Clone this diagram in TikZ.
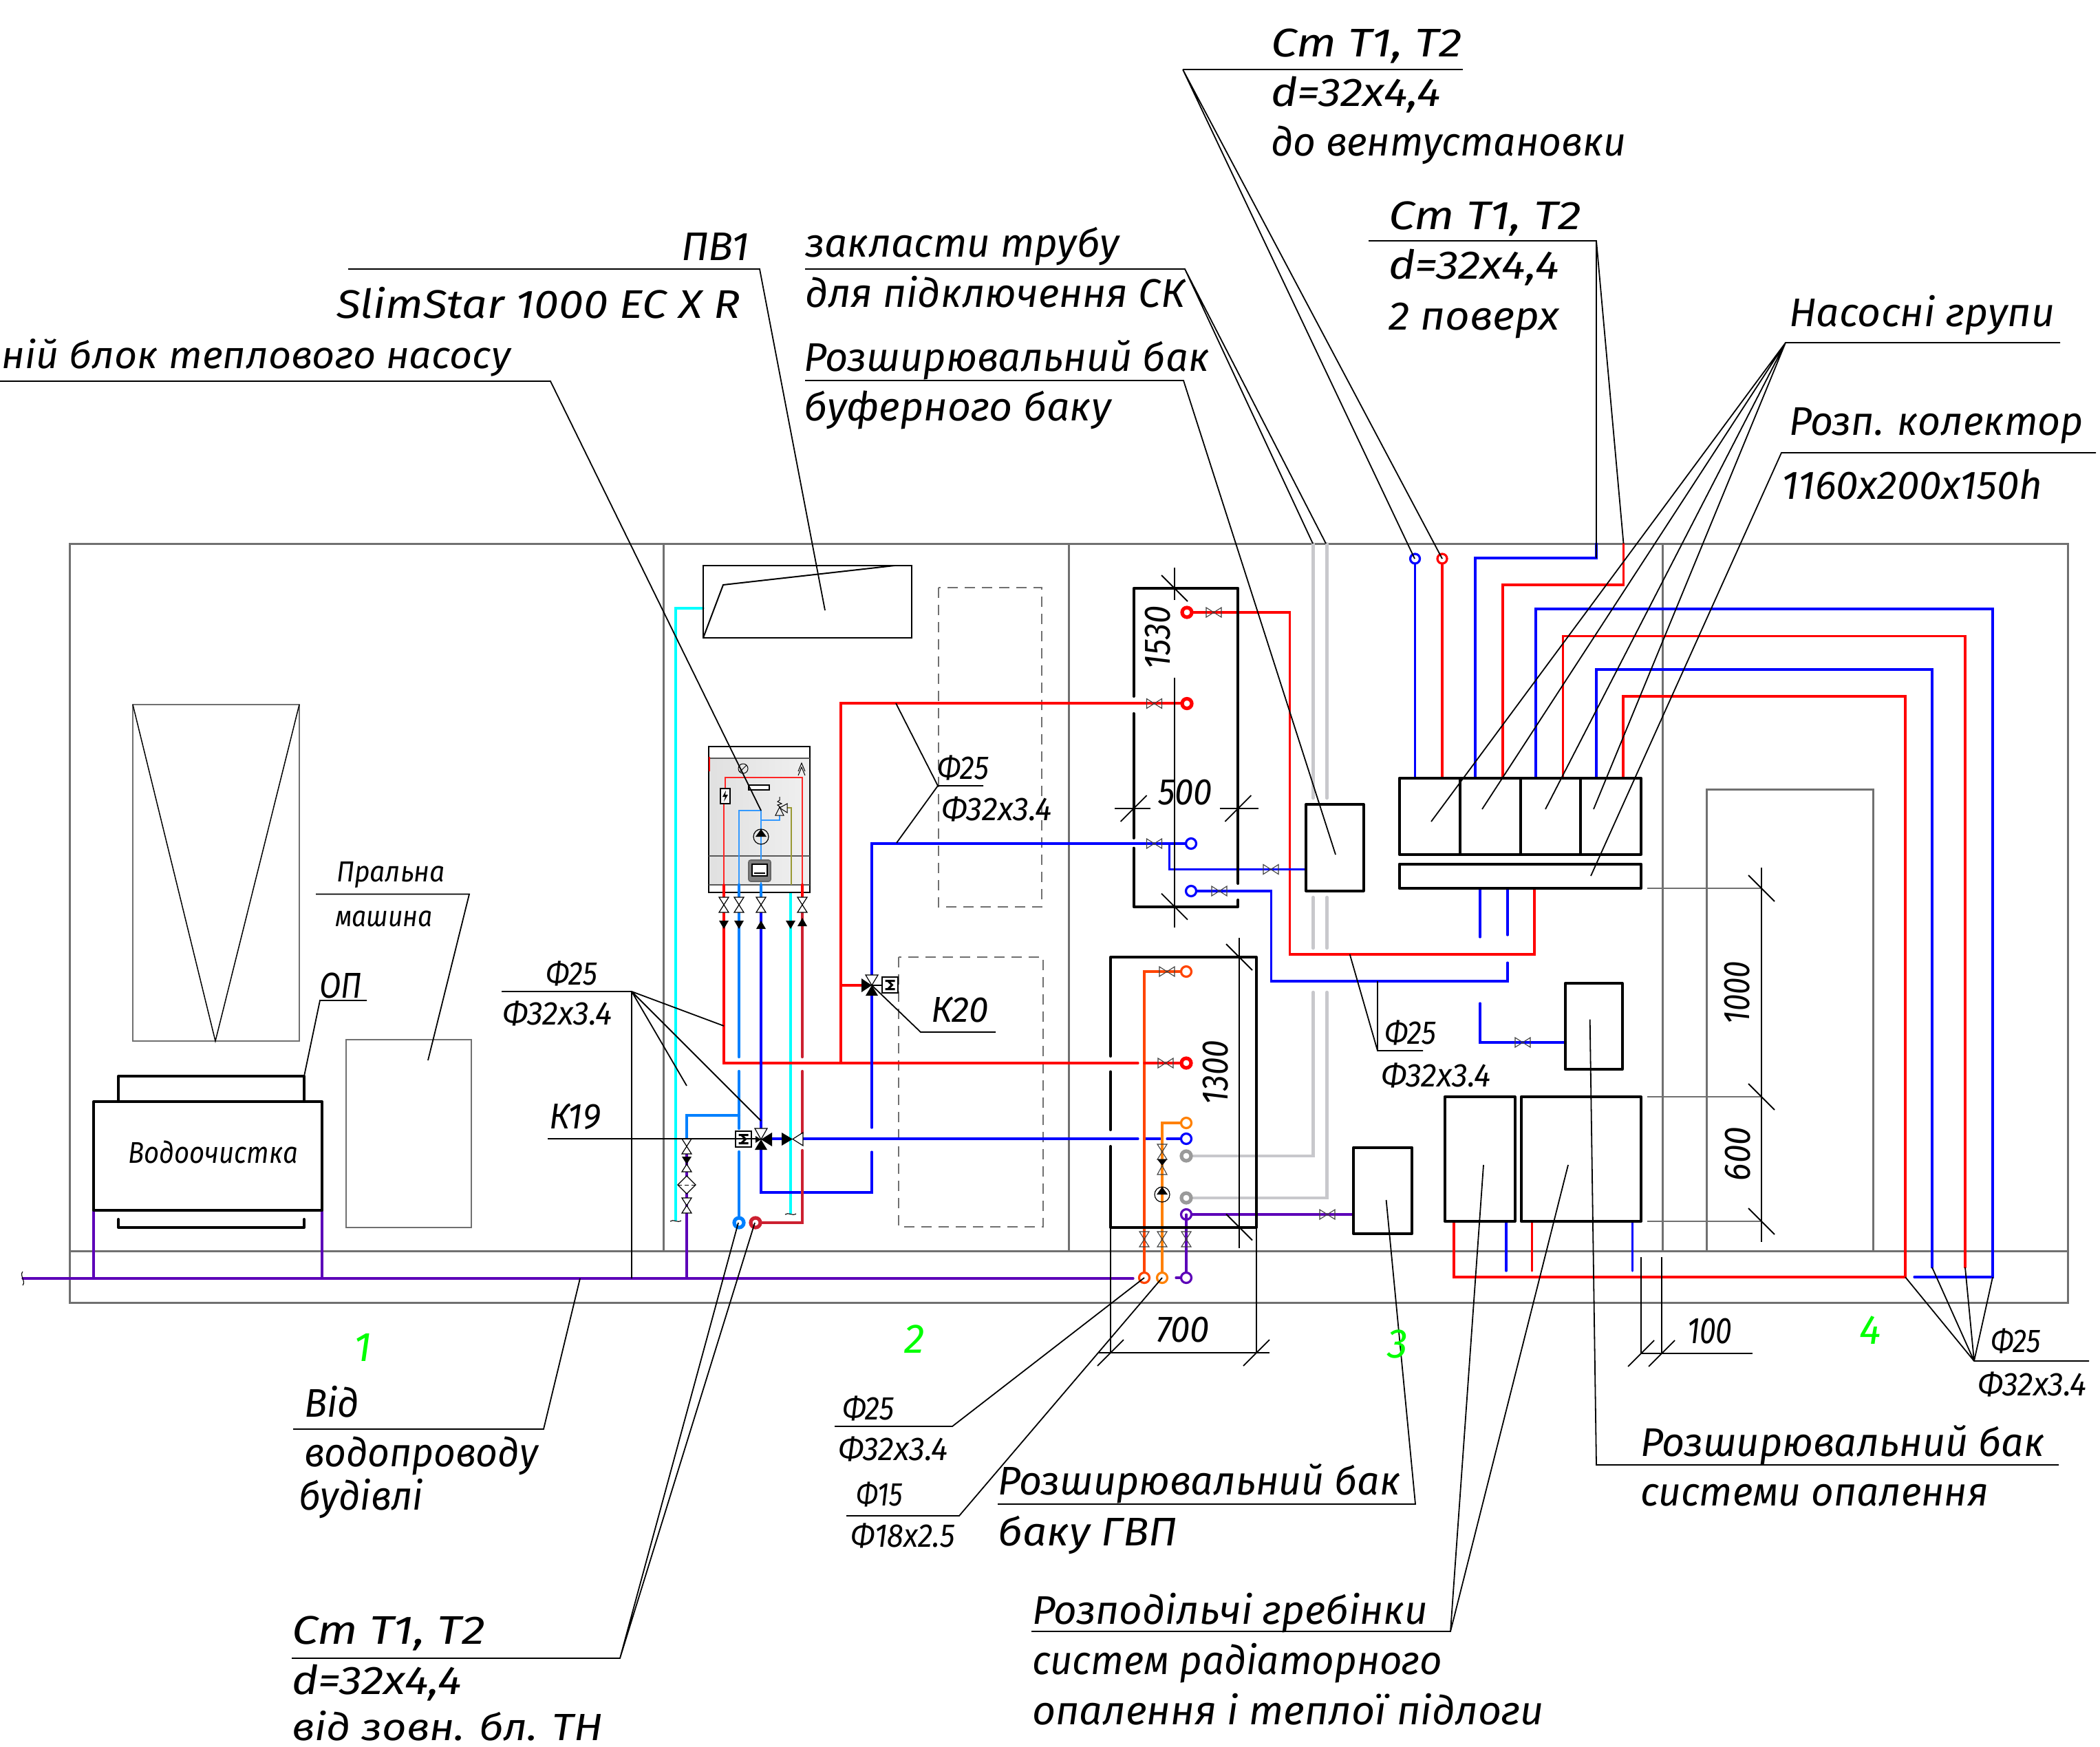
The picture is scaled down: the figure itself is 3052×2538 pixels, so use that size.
\documentclass[tikz,border=0pt]{standalone}
\usepackage{graphicx}
\usepackage{fontspec}
\newfontfamily\fnt{Fira Sans}
\definecolor{pblue}{HTML}{0000FF}
\definecolor{pred}{HTML}{FF0000}
\definecolor{pazure}{HTML}{0080FF}
\definecolor{plight}{HTML}{3399FF}
\definecolor{pdred}{HTML}{CC2030}
\definecolor{pcyan}{HTML}{00FFFF}
\definecolor{ppurple}{HTML}{5C00B8}
\definecolor{porange}{HTML}{FF8000}
\definecolor{porred}{HTML}{FF4400}
\definecolor{pgrey}{HTML}{C8C8CC}
\definecolor{cgrey}{HTML}{9A9A9A}
\definecolor{wallc}{HTML}{707070}
\definecolor{pgreen}{HTML}{00FF00}
\definecolor{polive}{HTML}{999933}
\tikzset{
  wall/.style={draw=wallc,line width=1.5pt,line join=miter},
  thinwall/.style={draw=wallc,line width=1pt},
  dashbox/.style={draw=wallc,line width=1pt,dash pattern=on 7.5pt off 5pt},
  hv/.style={draw=black,line width=2pt,line join=round,line cap=round},
  pipe/.style={line width=1.6pt,line join=miter,line cap=round},
  thickpipe/.style={line width=2.2pt,line join=miter,line cap=round},
  leader/.style={draw=black,line width=0.9pt},
  hair/.style={draw=black,line width=0.55pt},
  valve/.style={draw=black!75,line width=0.55pt,line join=miter},
  valvew/.style={draw=black,line width=0.6pt,fill=white,line join=miter},
  endc/.style={line width=1.6pt,fill=white},
  endt/.style={line width=2.6pt,fill=white},
}
\newlength\tlen
\newcommand\T[7][0]{%
  \node[anchor=base west,inner sep=0pt,outer sep=0pt,rotate=#1] (#2) at (#3,#4) {%
    \settowidth\tlen{\fontsize{20}{20}\fnt\itshape #7}%
    \pgfmathsetmacro\xs{#5*0.5/\tlen}%
    \pgfmathsetmacro\ys{#6*0.5/13.78}%
    \scalebox{\xs}[\ys]{\fontsize{20}{20}\fnt\itshape #7}};%
}
\newcommand\vh[2]{\draw[valve] (#1-11,#2-7)--(#1+11,#2+7)--(#1+11,#2-7)--(#1-11,#2+7)--cycle;}
\newcommand\vv[2]{\draw[valve] (#1-7,#2-11)--(#1+7,#2+11)--(#1-7,#2+11)--(#1+7,#2-11)--cycle;}
\newcommand\vvw[2]{\draw[valvew] (#1-7,#2-11)--(#1+7,#2+11)--(#1-7,#2+11)--(#1+7,#2-11)--cycle;}
\newcommand\tb[2]{\draw[hair,line width=0.9pt] (#1-19,#2-19)--(#1+19,#2+19);}
\newcommand\tf[2]{\draw[hair,line width=0.9pt] (#1-19,#2+19)--(#1+19,#2-19);}
\newcommand\act[2]{\draw[black,fill=white,line width=0.6pt] (#1-11.5,#2-11.5) rectangle (#1+11.5,#2+11.5);
  \draw[black,line width=1.5pt] (#1-7,#2-6)--(#1+7,#2-6) (#1-3,#2-6)--(#1+3,#2)--(#1-3,#2+6) (#1-7,#2+6)--(#1+7,#2+6);}
\newcommand\pump[2]{\draw[black,line width=0.6pt] (#1,#2) circle[radius=11];
  \fill[black] (#1,#2-11)--(#1+8,#2)--(#1-8,#2)--cycle;}
\newcommand\til[2]{\draw[black,line width=0.55pt] (#1-8,#2+1) .. controls (#1-3,#2-3) and (#1+2,#2+4) .. (#1+8,#2);}
\begin{document}
\begin{tikzpicture}[x=0.5pt,y=-0.5pt]
\useasboundingbox (0,0) rectangle (3052,2538);
\fill[white] (0,0) rectangle (3052,2538);

% rooms
\draw[wall] (101,790) rectangle (3005,1893);
\draw[wall] (101,1818)--(3005,1818);
\draw[wall] (964,790)--(964,1818);
\draw[wall] (1553,790)--(1553,1818);
\draw[wall] (2416,790)--(2416,1818);
\draw[wall] (2480,1818)--(2480,1147)--(2722,1147)--(2722,1818);
\draw[dashbox] (1364,854) rectangle (1514,1318);
\draw[dashbox] (1306,1391) rectangle (1516,1783);

% room 1
\draw[thinwall] (193,1024) rectangle (435,1513);
\draw[black,line width=0.75pt] (193,1024)--(313,1513)--(435,1024);
\draw[thinwall] (503,1511) rectangle (685,1784);

% purple mains
\draw[ppurple,pipe] (33,1858)--(1647,1858);
\draw[ppurple,pipe] (136,1759)--(136,1858);
\draw[ppurple,pipe] (468,1759)--(468,1858);
\draw[ppurple,pipe] (998,1677)--(998,1858);
\draw[ppurple,pipe] (1709,1857)--(1724,1857);
\draw[ppurple,pipe] (1724,1857)--(1724,1765)--(1967,1765);
\draw[black,line width=0.55pt] (33,1848) .. controls (28,1854) and (38,1862) .. (33,1868);

% cyan
\draw[pcyan,pipe] (1022,884)--(982,884)--(982,1773);
\draw[pcyan,pipe] (1149,1286)--(1149,1763);
\til{982}{1774}
\til{1149}{1764}

% gray pipes
\draw[pgrey,thickpipe] (1908.5,790)--(1908.5,1160);
\draw[pgrey,thickpipe] (1928.5,790)--(1928.5,1160);
\draw[pgrey,thickpipe] (1908.5,1304)--(1908.5,1378);
\draw[pgrey,thickpipe] (1928.5,1304)--(1928.5,1378);
\draw[pgrey,thickpipe] (1908.5,1442)--(1908.5,1680)--(1724,1680);
\draw[pgrey,thickpipe] (1928.5,1442)--(1928.5,1741)--(1724,1741);

% heat pump unit
\draw[black,line width=1pt,fill=white] (1030,1085) rectangle (1177,1297);
\shade[left color=black!12,right color=black!6] (1031,1102) rectangle (1176,1286);
\draw[black!65,line width=1pt] (1030,1102)--(1177,1102) (1030,1244)--(1177,1244) (1030,1286)--(1177,1286);
\draw[pred,line width=0.8pt] (1031,1100)--(1031,1121);
\draw[black,line width=0.5pt] (1080,1117) circle[radius=7];
\draw[black,line width=0.5pt] (1075,1122)--(1085,1112);
\draw[black,line width=0.5pt] (1160,1121)--(1165,1109)--(1170,1121) (1160,1127)--(1165,1115)--(1170,1127);
\draw[black,line width=0.8pt,fill=white] (1088,1141) rectangle (1118,1148);
\draw[pred!85,line width=0.7pt] (1052,1286)--(1052,1168) (1054,1146)--(1054,1130)--(1166,1130)--(1166,1286);
\draw[plight,line width=0.8pt] (1074,1286)--(1074,1178)--(1106,1178)--(1106,1286);
\draw[plight,line width=0.8pt] (1106,1192)--(1133,1192)--(1133,1185);
\draw[polive,line width=0.7pt] (1144,1174)--(1150,1174)--(1150,1286);
\draw[black,line width=0.8pt,fill=black!3] (1047,1146) rectangle (1061,1168);
\fill[black] (1055,1149)--(1050,1158)--(1054,1158)--(1052,1165)--(1058,1155)--(1054,1155)--cycle;
\draw[black,line width=0.5pt] (1127,1185)--(1133,1173)--(1139,1185)--cycle;
\draw[black,line width=0.5pt] (1133,1174)--(1144,1168)--(1144,1181)--cycle;
\draw[black,line width=0.5pt] (1133,1158)--(1133,1163)--(1130,1165)--(1136,1168)--(1130,1170)--(1134,1173);
\pump{1106}{1216}
\draw[black!60,fill=black!50,rounded corners=1.5pt,line width=0.8pt] (1088,1250) rectangle (1120,1281);
\draw[black,fill=white,line width=1pt] (1093,1256) rectangle (1115,1273);
\draw[black,line width=1pt] (1096,1269)--(1112,1269);
% stubs
\draw[pred,pipe] (1052,1286)--(1052,1304);
\draw[pazure,thickpipe] (1074,1286)--(1074,1304);
\draw[pazure,thickpipe] (1106,1286)--(1106,1304);
\draw[pred,thickpipe] (1166,1286)--(1166,1304);

% main pipes in room 2
\draw[pred,pipe] (1052,1326)--(1052,1545)--(1654,1545);
\draw[pazure,thickpipe] (1074,1326)--(1074,1536);
\draw[pazure,thickpipe] (1074,1557)--(1074,1640);
\draw[pazure,thickpipe] (1074,1674)--(1074,1769);
\draw[pazure,thickpipe] (1074,1621)--(998,1621)--(998,1655);
\draw[pblue,pipe] (1106,1326)--(1106,1640);
\draw[pblue,pipe] (1106,1671)--(1106,1733)--(1267,1733)--(1267,1674);
\draw[pblue,pipe] (1267,1447)--(1267,1639);
\draw[pdred,thickpipe] (1166,1326)--(1166,1536);
\draw[pdred,thickpipe] (1166,1557)--(1166,1647);
\draw[pdred,thickpipe] (1166,1672)--(1166,1777)--(1106,1777);
\draw[pblue,pipe] (1122,1655)--(1136,1655);
\draw[pblue,pipe] (1167,1655)--(1654,1655);
\draw[pblue,pipe] (1665,1655)--(1686,1655);
\draw[pblue,pipe] (1696,1655)--(1717,1655);
\draw[pred,pipe] (1252,1432)--(1222,1432);
\draw[pred,pipe] (1222,1545)--(1222,1022)--(1718,1022);
\draw[pblue,pipe] (1724,1226)--(1267,1226)--(1267,1417);

% tank pipes
\draw[pred,pipe] (1718,890)--(1874.5,890)--(1874.5,1387)--(2230,1387)--(2230,1291);
\draw[pblue,pipe] (1699.5,1226)--(1699.5,1263.5)--(1898,1263.5);
\draw[pblue,pipe] (1724,1295)--(1847.6,1295)--(1847.6,1426)--(2191,1426)--(2191,1399);
\draw[pblue,pipe] (2191,1359)--(2191,1291);
\draw[pblue,pipe] (2151,1291)--(2151,1362);
\draw[pblue,pipe] (2151,1458)--(2151,1515)--(2274,1515);
\draw[porred,pipe] (1724,1412)--(1663,1412)--(1663,1849);
\draw[pred,pipe] (1663,1545)--(1716,1545);
\draw[porange,pipe] (1724,1632)--(1689,1632)--(1689,1849);

% upper loops
\draw[pblue,pipe] (2056.5,820)--(2056.5,1131);
\draw[pred,pipe] (2096,820)--(2096,1131);
\draw[pblue,pipe] (2144,1131)--(2144,811)--(2320,811)--(2320,790);
\draw[pred,pipe] (2184,1131)--(2184,850)--(2359.5,850)--(2359.5,790);
\draw[pblue,pipe] (2232,1131)--(2232,885)--(2896,885)--(2896,1856)--(2782,1856);
\draw[pred,pipe] (2271.5,1131)--(2271.5,924.5)--(2856,924.5)--(2856,1842);
\draw[pblue,pipe] (2320,1131)--(2320,973)--(2808,973)--(2808,1842);
\draw[pred,pipe] (2359,1131)--(2359,1012)--(2769,1012)--(2769,1856)--(2113,1856)--(2113,1775);
\draw[pblue,pipe] (2189,1775)--(2189,1847);
\draw[pred,pipe] (2226.5,1775)--(2226.5,1847);
\draw[pblue,pipe] (2372.7,1775)--(2372.7,1847);

% end circles
\draw[pblue,endc] (2056.5,812) circle[radius=7];
\draw[pred,endc] (2096,812) circle[radius=7];
\draw[pred,endt] (1725,890) circle[radius=7];
\draw[pred,endt] (1725,1022.5) circle[radius=7];
\draw[pblue,endc] (1731,1226) circle[radius=7.5];
\draw[pblue,endc] (1731,1295) circle[radius=7.5];
\draw[porred,endc] (1724,1412) circle[radius=7.5];
\draw[pred,endt] (1724,1545) circle[radius=7];
\draw[porange,endc] (1724,1632) circle[radius=7.5];
\draw[pblue,endc] (1724,1655) circle[radius=7.5];
\draw[cgrey,endt] (1724,1680) circle[radius=7];
\draw[cgrey,endt] (1724,1741) circle[radius=7];
\draw[ppurple,endc] (1724,1765) circle[radius=7.5];
\draw[ppurple,pipe] (1724,1765)--(1724,1857);
\draw[porred,endc] (1663,1857) circle[radius=7.5];
\draw[porange,endc] (1689,1857) circle[radius=7.5];
\draw[ppurple,endc] (1724,1857) circle[radius=7.5];
\draw[pazure,endt] (1074,1777) circle[radius=7];
\draw[pdred,endt] (1098,1777) circle[radius=7];

% valves
\vh{1764}{890} \vh{1677.5}{1022.5} \vh{1677.5}{1226} \vh{1847}{1263.5} \vh{1772}{1295}
\vh{1696}{1412} \vh{1694}{1545} \vh{1929}{1765} \vh{2213}{1515}
\vv{1663}{1801} \vv{1689}{1801} \vv{1724}{1801} \vv{1689}{1674}
\fill[black] (1682,1685)--(1696,1685)--(1689,1694)--cycle;
\draw[valve] (1689,1694)--(1682,1707)--(1696,1707)--cycle;
\pump{1689}{1736}
\vvw{1052}{1315} \vvw{1074}{1315} \vvw{1106}{1315} \vvw{1166}{1315}
\fill[black] (1045,1338)--(1059,1338)--(1052,1350)--cycle;
\fill[black] (1067,1338)--(1081,1338)--(1074,1350)--cycle;
\fill[black] (1142,1338)--(1156,1338)--(1149,1350)--cycle;
\fill[black] (1099,1350)--(1113,1350)--(1106,1338)--cycle;
\fill[black] (1159,1346)--(1173,1346)--(1166,1334)--cycle;
% water line valves
\vvw{998}{1666}
\fill[black] (991,1681)--(1005,1681)--(998,1692)--cycle;
\draw[valvew] (998,1692)--(991,1703)--(1005,1703)--cycle;
\draw[valvew] (998,1709)--(1011,1722)--(998,1735)--(985,1722)--cycle;
\draw[black,line width=0.5pt,dash pattern=on 3pt off 2pt] (985,1722)--(1011,1722);
\vvw{998}{1752}
% K19 group
\act{1080.5}{1655.5}
\draw[valvew] (1106,1656)--(1097,1640)--(1115,1640)--cycle;
\fill[black] (1106,1656)--(1097,1671)--(1115,1671)--cycle;
\fill[black] (1106,1656)--(1122,1646)--(1122,1666)--cycle;
\fill[black] (1106,1656)--(1098,1651)--(1098,1661)--cycle;
\fill[black] (1136,1646)--(1136,1665)--(1152,1655.5)--cycle;
\draw[valvew] (1152,1655.5)--(1167,1646)--(1167,1665)--cycle;
% K20 group
\act{1293.5}{1431.5}
\draw[black,line width=0.6pt] (1267,1432)--(1282,1432);
\draw[valvew] (1267,1432)--(1258,1417)--(1276,1417)--cycle;
\fill[black] (1267,1432)--(1258,1447)--(1276,1447)--cycle;
\fill[black] (1267,1432)--(1252,1422)--(1252,1442)--cycle;

% black boxes
\draw[hv] (136,1601) rectangle (468,1759);
\draw[hv] (172,1601)--(172,1564)--(442,1564)--(442,1601);
\draw[hv] (172,1772)--(172,1784)--(442,1784)--(442,1772);
\draw[hv] (1647.5,1012)--(1647.5,855)--(1799.4,855)--(1799.4,1284);
\draw[hv] (1799.4,1308)--(1799.4,1317.6)--(1647.5,1317.6)--(1647.5,1232.6);
\draw[hv] (1647.5,1037)--(1647.5,1218);
\draw[hv] (1614,1535)--(1614,1391)--(1826,1391)--(1826,1783.5)--(1614,1783.5)--(1614,1666);
\draw[hv] (1614,1557.5)--(1614,1642);
\draw[hv] (1898,1169) rectangle (1981.6,1294.5);
\draw[hv] (1967,1667.5) rectangle (2052,1793);
\draw[hv] (2033.6,1131) rectangle (2385,1241.7);
\draw[hv] (2121.7,1131)--(2121.7,1241.7) (2209.5,1131)--(2209.5,1241.7) (2297,1131)--(2297,1241.7);
\draw[hv] (2033.6,1255.7) rectangle (2385,1291);
\draw[hv] (2274.7,1429) rectangle (2357.7,1554);
\draw[hv] (2099.6,1594) rectangle (2201.6,1775);
\draw[hv] (2210.7,1594) rectangle (2385,1775);
% PV1 box
\draw[black,line width=1pt] (1022,822) rectangle (1325,927);
\draw[black,line width=1pt] (1022,927)--(1051,850)--(1300,822);

% dimensions
\draw[hair,line width=0.9pt] (1707,825)--(1707,872) (1707,985)--(1707,1348);
\tb{1707}{855} \tb{1707}{1317.6}
\draw[hair,line width=0.9pt] (1620,1175)--(1672,1175) (1772.5,1175)--(1829,1175);
\tf{1647.5}{1175} \tf{1799.4}{1175}
\draw[hair,line width=0.9pt] (1801,1363)--(1801,1814);
\tb{1801}{1391} \tb{1801}{1783.5}
\draw[hair,line width=0.7pt] (1614,1783)--(1614,1966) (1826,1783)--(1826,1966);
\draw[hair,line width=0.9pt] (1596,1966)--(1845,1966);
\tf{1614}{1966} \tf{1826}{1966}
\draw[thinwall] (2394,1291)--(2560,1291) (2394,1594)--(2560,1594) (2394,1775)--(2560,1775);
\draw[hair,line width=0.9pt] (2560,1260.7)--(2560,1805);
\tb{2560}{1291} \tb{2560}{1594} \tb{2560}{1775}
\draw[hair] (2385,1827)--(2385,1967) (2415,1827)--(2415,1967);
\draw[hair,line width=0.9pt] (2385,1967)--(2547,1967);
\tf{2385}{1967} \tf{2415}{1967}

% leaders
\draw[leader] (459,1299.5)--(682,1299.5)--(622,1541);
\draw[leader] (442,1564)--(465,1454)--(533,1454);
\draw[leader] (729,1441)--(918,1441)--(918,1858);
\draw[leader] (918,1441)--(1052,1491) (918,1441)--(998,1578) (918,1441)--(1106,1629);
\draw[leader] (796,1655)--(1100,1655);
\draw[leader] (506,391)--(1104,391)--(1199,887);
\draw[leader] (0,554)--(800,554)--(1106,1178);
\draw[leader] (1170,391)--(1722,391)--(1908,790) (1722,391)--(1927,790);
\draw[leader] (1170,553)--(1720,553)--(1941,1242);
\draw[leader] (1303,1225)--(1363,1142)--(1429,1142) (1363,1142)--(1302,1022);
\draw[leader] (1267,1432)--(1338,1500)--(1447,1500);
\draw[leader] (1961.7,1387)--(2002,1527)--(2068,1527) (2002,1527)--(2002,1426);
\draw[leader] (1719,101)--(2126,101);
\draw[leader] (1719,101)--(2056,812) (1719,101)--(2096,812);
\draw[leader] (1989,350)--(2320,350)--(2320,811) (2320,350)--(2359.5,790);
\draw[leader] (2994,498)--(2595,498)--(2080,1194) (2595,498)--(2154,1176) (2595,498)--(2246,1176) (2595,498)--(2316,1176);
\draw[leader] (3046,658)--(2589,658)--(2312,1273);
\draw[leader] (2992,2129)--(2320,2129)--(2310.7,1481.7);
\draw[leader] (1450,2186)--(2057,2186)--(2014.6,1744);
\draw[leader] (1499,2371)--(2108,2371)--(2156,1693) (2108,2371)--(2279,1693);
\draw[leader] (1213,2073)--(1384,2073)--(1663,1857);
\draw[leader] (1230,2203)--(1394,2203)--(1689,1857);
\draw[leader] (426,2077)--(790,2077)--(843,1858);
\draw[leader] (424,2410)--(901,2410)--(1073,1777) (901,2410)--(1097,1777);
\draw[leader] (3036,1978)--(2869,1978)--(2769,1856) (2869,1978)--(2808,1842) (2869,1978)--(2856,1842) (2869,1978)--(2896,1856);

% texts
\T{t01}{1847}{82}{278}{40}{Ст Т1, Т2}
\T{t02}{1847}{154}{247}{40}{d=32x4,4}
\T{t03}{1847}{226}{516}{40}{до вентустановки}
\T{t04}{2018}{333}{280}{40}{Ст Т1, Т2}
\T{t05}{2018}{405}{248}{40}{d=32x4,4}
\T{t06}{2018}{479}{248}{40}{2 поверх}
\T{t07}{990}{378}{99}{40}{ПВ1}
\T{t08}{489}{462}{587}{40}{SlimStar 1000 EC X R}
\T{t09}{3}{535}{739}{38}{ній блок теплового насосу}
\T{t10}{1170}{373}{457}{40}{закласти трубу}
\T{t11}{1170}{446}{552}{40}{для підключення СК}
\T{t12}{1168}{539}{590}{40}{Розширювальний бак}
\T{t13}{1168}{611}{447}{40}{буферного баку}
\T{t14}{2600}{474}{386}{40}{Насосні групи}
\T{t15}{2600}{632}{428}{40}{Розп. колектор}
\T{t16}{2589}{725}{379}{40}{1160x200x150h}
\T{t17}{489}{1281}{158}{29}{Пральна}
\T{t18}{487}{1346}{142}{29}{машина}
\T{t19}{464}{1450}{62}{36}{ОП}
\T{t20}{186}{1690}{247}{30}{Водоочистка}
\T{t21}{793}{1431}{75}{33}{Ф25}
\T{t22}{730}{1489}{160}{33}{Ф32x3.4}
\T{t23}{798}{1640}{75}{36}{К19}
\T{t24}{1353}{1485}{84}{36}{К20}
\T{t25}{1362}{1132}{75}{33}{Ф25}
\T{t26}{1368}{1192}{161}{33}{Ф32x3.4}
\T{t27}{2012}{1517}{75}{33}{Ф25}
\T{t28}{2007}{1579}{160}{33}{Ф32x3.4}
\T{t29}{2893}{1965}{73}{33}{Ф25}
\T{t30}{2874}{2028}{159}{33}{Ф32x3.4}
\T{t31}{1224}{2063}{76}{33}{Ф25}
\T{t32}{1218}{2122}{160}{33}{Ф32x3.4}
\T{t33}{1244}{2188}{68}{33}{Ф15}
\T{t34}{1236}{2248}{152}{33}{Ф18x2.5}
\T{t35}{1683}{1169.5}{79}{37}{500}
\T[90]{t36}{1700}{972.6}{92}{37}{1530}
\T[90]{t37}{1784}{1605}{93}{37}{1300}
\T[90]{t38}{2542}{1488}{91}{37}{1000}
\T[90]{t39}{2543}{1716}{78}{37}{600}
\T{t40}{1680}{1950}{78}{37}{700}
\T{t41}{2452}{1952}{65.5}{37}{100}
\T{t42}{442}{2059}{80}{40}{Від}
\T{t43}{442}{2131}{340}{40}{водопроводу}
\T{t44}{434}{2194}{181}{40}{будівлі}
\T{t45}{424}{2389}{281}{40}{Ст Т1, Т2}
\T{t46}{424}{2462}{247}{40}{d=32x4,4}
\T{t47}{424}{2529}{452}{38}{від зовн. бл. ТН}
\T{t48}{1450}{2172}{586}{40}{Розширювальний бак}
\T{t49}{1450}{2246}{261}{40}{баку ГВП}
\T{t50}{1500}{2360}{575}{40}{Розподільчі гребінки}
\T{t51}{1500}{2433}{596}{40}{систем радіаторного}
\T{t52}{1500}{2506}{744}{40}{опалення і теплої підлоги}
\T{t53}{2384}{2116}{588}{40}{Розширювальний бак}
\T{t54}{2384}{2188}{506}{40}{системи опалення}
\node[anchor=base west,inner sep=0pt,text=pgreen] (n1) at (514,1978) {\scalebox{1.5}[1.5]{\fontsize{20}{20}\fnt\itshape 1}};
\node[anchor=base west,inner sep=0pt,text=pgreen] (n2) at (1314,1966) {\scalebox{1.5}[1.5]{\fontsize{20}{20}\fnt\itshape 2}};
\node[anchor=base west,inner sep=0pt,text=pgreen] (n3) at (2016,1973) {\scalebox{1.5}[1.5]{\fontsize{20}{20}\fnt\itshape 3}};
\node[anchor=base west,inner sep=0pt,text=pgreen] (n4) at (2702,1953) {\scalebox{1.5}[1.5]{\fontsize{20}{20}\fnt\itshape 4}};
\end{tikzpicture}
\end{document}
